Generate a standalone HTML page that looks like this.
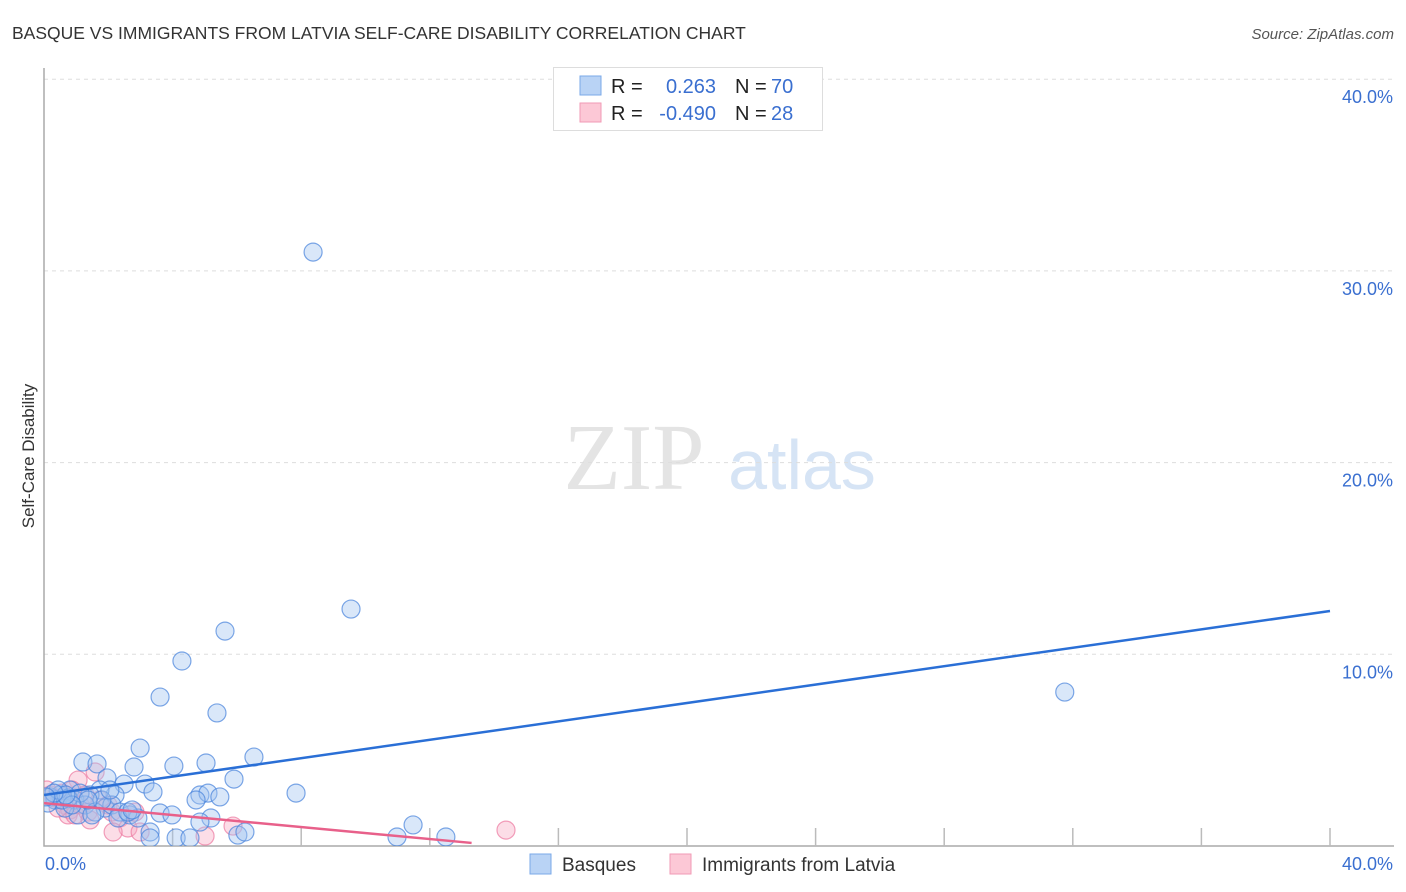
<!DOCTYPE html>
<html><head><meta charset="utf-8"><style>
body{margin:0;background:#fff;font-family:"Liberation Sans",sans-serif}
svg{display:block}
</style></head><body>
<svg id="c" width="1406" height="892">
<defs><clipPath id="pc"><rect x="44" y="60" width="1360" height="786"/></clipPath></defs>
<text x="12" y="39" font-size="17.5" fill="#333">BASQUE VS IMMIGRANTS FROM LATVIA SELF-CARE DISABILITY CORRELATION CHART</text>
<text x="1394" y="39" font-size="15" fill="#555" font-style="italic" text-anchor="end">Source: ZipAtlas.com</text>
<text transform="translate(34,456) rotate(-90)" font-size="17" fill="#333" text-anchor="middle">Self-Care Disability</text>
<g><text x="634" y="489" font-size="94" font-family="Liberation Serif,serif" fill="#e4e4e4" text-anchor="middle">ZIP</text><text x="802" y="489" font-size="70" fill="#d6e4f5" text-anchor="middle">atlas</text></g>
<g id="grid"></g><g id="axes"></g>
<g id="marks" clip-path="url(#pc)"></g>
<g>
<rect x="553.5" y="67.5" width="269" height="63" fill="#fff" stroke="#ddd"/>
<rect x="580" y="76" width="21" height="19" fill="#b9d3f5" stroke="#7aa8e8"/>
<rect x="580" y="103" width="21" height="19" fill="#fcc8d6" stroke="#f19ab5"/>
<text x="611" y="93" font-size="20" fill="#222">R = </text><text x="716" y="93" font-size="20" fill="#3a6fd0" text-anchor="end">0.263</text>
<text x="735" y="93" font-size="20" fill="#222">N = </text><text x="771" y="93" font-size="20" fill="#3a6fd0">70</text>
<text x="611" y="120" font-size="20" fill="#222">R = </text><text x="716" y="120" font-size="20" fill="#3a6fd0" text-anchor="end">-0.490</text>
<text x="735" y="120" font-size="20" fill="#222">N = </text><text x="771" y="120" font-size="20" fill="#3a6fd0">28</text>
</g>
<g>
<rect x="530" y="854" width="21" height="20" fill="#b9d3f5" stroke="#7aa8e8"/>
<text x="562" y="871" font-size="19" fill="#333">Basques</text>
<rect x="670" y="854" width="21" height="20" fill="#fcc8d6" stroke="#f19ab5"/>
<text x="702" y="871" font-size="19" fill="#333">Immigrants from Latvia</text>
</g>
</svg>
<script>
const yTicks=[10,20,30,40];
const yTickLabels=["10.0%","20.0%","30.0%","40.0%"];
const xTicks=[4,8,12,16,20,24,28,32,36,40];
const basqueX=[8.37,9.55,5.63,4.29,3.61,5.38,31.75,6.53,2.99,1.21,1.65,4.04,5.04,2.80,5.91,1.96,2.49,3.14,3.39,7.84,4.85,5.10,5.47,4.73,2.21,1.74,0.50,0.81,1.43,0.19,0.34,0.96,1.28,1.90,2.11,2.36,2.67,2.92,1.59,1.06,0.65,3.61,3.98,5.19,4.85,3.30,4.11,4.54,6.03,6.25,10.98,11.48,12.50,3.30,1.49,0.56,0.12,0.44,0.75,1.12,1.80,2.30,2.61,1.37,2.05,0.87,0.68,0.31,0.06,2.74];
const basqueY=[30.98,12.36,11.21,9.65,7.77,6.94,8.03,4.64,5.11,4.38,4.28,4.17,4.33,4.12,3.49,3.55,3.23,3.23,2.82,2.76,2.66,2.76,2.56,2.40,2.66,2.92,2.66,2.92,2.66,2.56,2.40,2.40,2.14,1.98,2.14,1.77,1.62,1.46,1.77,1.62,1.98,1.72,1.62,1.46,1.25,0.73,0.42,0.42,0.57,0.73,0.47,1.10,0.47,0.42,1.62,2.40,2.24,2.92,2.50,2.76,2.40,1.46,1.77,2.40,2.92,2.14,2.66,2.76,2.56,1.88];
const latviaX=[1.59,1.06,0.19,0.34,0.50,0.65,0.81,0.75,0.96,1.12,1.37,1.74,1.99,2.11,2.36,2.61,2.99,2.15,5.01,5.88,14.37,1.28,0.56,0.87,0.09,0.44,1.43,2.83];
const latviaY=[3.86,3.44,2.66,2.50,2.40,2.14,1.88,1.62,1.62,2.14,1.77,2.40,2.14,1.77,1.46,0.94,0.73,0.73,0.52,1.04,0.83,2.66,2.76,2.92,2.92,1.98,1.36,1.77];
const basqueTrend=[[0,2.66],[40,12.26]];
const latviaTrend=[[0,2.24],[13.3,0.16]];
const NS="http://www.w3.org/2000/svg";
const X=v=>44+v/40*1286, Y=v=>846-v/10*191.7;
function mk(t,a,p){const e=document.createElementNS(NS,t);for(const k in a)e.setAttribute(k,a[k]);p.appendChild(e);return e;}
const grid=document.getElementById('grid'),axes=document.getElementById('axes'),marks=document.getElementById('marks');
yTicks.forEach((t,i)=>{
 const l=mk('line',{x1:44,x2:1394,y1:Y(t),y2:Y(t),stroke:'#ddd','stroke-dasharray':'4,4'},grid);
 
 
 const tx=mk('text',{x:1393,y:Y(t)+24,'font-size':18,fill:'#3a6fd0','text-anchor':'end'},axes);
 tx.textContent=yTickLabels[i];
 
 
});
const ax=mk('path',{d:'M44,68V846H1394',fill:'none',stroke:'#aaa','stroke-width':1.5},axes);


xTicks.forEach(t=>{const l=mk('line',{x1:X(t),x2:X(t),y1:828,y2:846,stroke:'#bbb','stroke-width':1.5},axes);
 
 });
const x0=mk('text',{x:45,y:870,'font-size':18,fill:'#3a6fd0'},axes);x0.textContent='0.0%';


const x1=mk('text',{x:1393,y:870,'font-size':18,fill:'#3a6fd0','text-anchor':'end'},axes);x1.textContent='40.0%';


latviaX.forEach((v,i)=>{const c=mk('circle',{cx:X(v),cy:Y(latviaY[i]),r:9,fill:'rgba(248,170,195,0.4)',stroke:'rgba(236,120,160,0.7)','stroke-width':1.2},marks);
 
 });
basqueX.forEach((v,i)=>{const c=mk('circle',{cx:X(v),cy:Y(basqueY[i]),r:9,fill:'rgba(160,195,240,0.4)',stroke:'rgba(70,130,220,0.7)','stroke-width':1.2},marks);
 
 });
const bl=mk('line',{x1:X(basqueTrend[0][0]),y1:Y(basqueTrend[0][1]),x2:X(basqueTrend[1][0]),y2:Y(basqueTrend[1][1]),stroke:'#2a6fd6','stroke-width':2.5},marks);


const pl=mk('line',{x1:X(latviaTrend[0][0]),y1:Y(latviaTrend[0][1]),x2:X(latviaTrend[1][0]),y2:Y(latviaTrend[1][1]),stroke:'#e8608a','stroke-width':2.5},marks);


</script>
</body></html>
